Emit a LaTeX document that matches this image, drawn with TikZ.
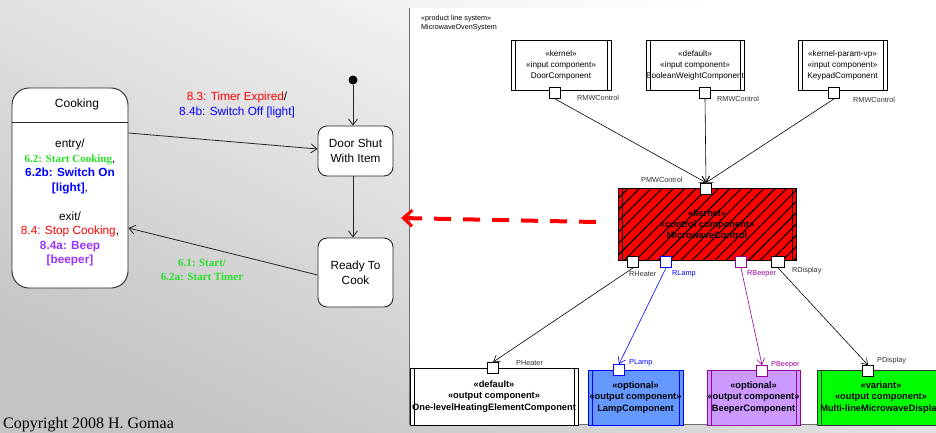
\documentclass[tikz,border=0pt]{standalone}
\usepackage{fontspec}
\setmainfont{Liberation Sans}
\newfontfamily\timesfont{Liberation Serif}
\usetikzlibrary{arrows.meta,patterns.meta}

\definecolor{okgreen}{RGB}{40,225,40}
\definecolor{lampblue}{RGB}{102,153,255}
\definecolor{beeplilac}{RGB}{204,153,255}
\definecolor{beepline}{RGB}{153,0,153}
\definecolor{beeptext}{RGB}{153,51,255}
\definecolor{framegray}{RGB}{110,110,110}

\tikzset{
  comp/.style={draw=#1, line width=0.8pt, rectangle, inner sep=0pt, align=center,
    path picture={
      \draw[#1, line width=0.6pt]
        ([xshift=4pt]path picture bounding box.north west) -- ([xshift=4pt]path picture bounding box.south west)
        ([xshift=-4pt]path picture bounding box.north east) -- ([xshift=-4pt]path picture bounding box.south east);}},
  comp/.default=black,
  topcomp/.style={comp, fill=white, minimum height=50pt, font=\fontsize{8.2}{11}\selectfont},
  outcomp/.style={comp=#1, minimum height=55pt, font=\bfseries\fontsize{9.3}{11.5}\selectfont},
  port/.style={draw=#1, fill=white, line width=0.8pt, minimum width=11pt, minimum height=11pt, inner sep=0pt},
  port/.default=black,
  conn/.style={draw=#1, line width=0.6pt, -{Straight Barb[length=6pt,width=8pt]}},
  conn/.default=black,
  lab/.style={font=\fontsize{7.3}{8}\selectfont, text=black!80, anchor=base west, inner sep=0pt},
  state/.style={draw=black!85, line width=0.9pt, fill=white, rounded corners=9pt, align=center,
    inner sep=0pt, font=\fontsize{11.8}{15}\selectfont},
  sarr/.style={draw=black!85, line width=0.8pt, -{Straight Barb[length=6pt,width=9pt]}},
  trlabel/.style={align=center, inner sep=0pt, font=\fontsize{11.8}{14.5}\selectfont},
}

\begin{document}
\begin{tikzpicture}[x=1pt, y=-1pt]
\useasboundingbox (0,0) rectangle (936,432);
% slide background
\shade[top color=white, bottom color=black!23, shading angle=-25] (0,0) rectangle (936,432);

% ---------------- state machine (left) ----------------
\node[state, rounded corners=17pt, minimum width=116pt, minimum height=200pt] (cook) at (70,188) {};
\draw[draw=black!85, line width=0.9pt] (cook.west |- 0,122) -- (cook.east |- 0,122);
\node[inner sep=0pt, font=\fontsize{12}{14}\selectfont] (cooktitle) at (77,104) {Cooking};
\node[align=center, inner sep=0pt, anchor=north, font=\fontsize{11.8}{14.5}\selectfont] (cookbody) at (70,139) {%
  entry/\\
  {\timesfont\bfseries\fontsize{11}{14.5}\selectfont\color{okgreen}6.2: Start Cooking},\\
  {\bfseries\color{blue}6.2b: Switch On}\\
  {\bfseries\color{blue}[light]},\\[14.5pt]
  exit/\\
  {\color{red}8.4: Stop Cooking},\\
  {\bfseries\color{beeptext}8.4a: Beep}\\
  {\bfseries\color{beeptext}[beeper]}};

\node[circle, fill=black, minimum size=9pt, inner sep=0pt] (init) at (353,80) {};
\node[state, minimum width=75pt, minimum height=50pt] (doorshut) at (355.5,151) {Door Shut\\With Item};
\node[state, minimum width=75pt, minimum height=69pt] (ready) at (355.5,272.5) {Ready To\\Cook};

\draw[sarr] (init) -- (init |- doorshut.north);
\draw[sarr] (doorshut.south -| init) -- (ready.north -| init);
\draw[sarr] ([yshift=55pt]cook.east) -- ([yshift=2pt]doorshut.west);
\draw[sarr] ([yshift=-2.5pt]ready.west) -- ([yshift=-40pt]cook.east);

\node[trlabel] (lblexpired) at (237,105) {{\color{red}8.3: Timer Expired}/\\{\color{blue}8.4b: Switch Off [light]}};
\node[trlabel, font=\timesfont\bfseries\fontsize{11}{14.5}\selectfont, text=okgreen] (lblstart) at (202,270) {6.1: Start/\\6.2a: Start Timer};

\node[anchor=base west, inner sep=0pt, font=\timesfont\fontsize{16}{18}\selectfont] (copy) at (3,428) {Copyright 2008 H. Gomaa};

% ---------------- component structure (right) ----------------
\fill[white] (410,8) rectangle (940,424);
\draw[framegray, line width=0.8pt] (409.5,8) -- (409.5,424.5) -- (940,424.5);
\node[anchor=base west, inner sep=0pt, font=\fontsize{7.2}{8}\selectfont] (sysster) at (421,20) {«product line system»};
\node[anchor=base west, inner sep=0pt, font=\fontsize{7.2}{8}\selectfont] (sysname) at (421,29) {MicrowaveOvenSystem};

% input components
\node[topcomp, minimum width=100pt] (door) at (561,65) {«kernel»\\«input component»\\DoorComponent};
\node[topcomp, minimum width=98pt] (bool) at (695,65) {«default»\\«input component»\\BooleanWeightComponent};
\node[topcomp, minimum width=89pt] (keypad) at (842.5,65) {«kernel-param-vp»\\«input component»\\KeypadComponent};
\node[port] (doorp) at (555,93) {};
\node[port] (boolp) at (705,93) {};
\node[port] (keypadp) at (834,93) {};
\node[lab] (doorpl) at (577,100) {RMWControl};
\node[lab] (boolpl) at (717,101) {RMWControl};
\node[lab] (keypadpl) at (853,102) {RMWControl};

% control component
\node[comp, fill=red, postaction={pattern={Lines[angle=45,distance=8pt,line width=1.1pt]}, pattern color=black},
  minimum width=178pt, minimum height=72pt, font=\bfseries\fontsize{9.3}{11}\selectfont] (ctrl) at (707,224)
  {«kernel»\\«control component»\\MicrowaveControl};
\node[port] (ctrlin) at (706,188.5) {};
\node[lab] (ctrlinl) at (641,182) {PMWControl};
\node[port] (rheat) at (633,262) {};
\node[port=blue] (rlamp) at (666,262) {};
\node[port=beepline] (rbeep) at (741,262) {};
\node[port, minimum width=13pt] (rdisp) at (778,262) {};
\node[lab] (rheatl) at (629,276) {RHeater};
\node[lab, text=blue] (rlampl) at (672,275) {RLamp};
\node[lab, text=beepline] (rbeepl) at (747,275) {RBeeper};
\node[lab] (rdispl) at (792,272) {RDisplay};

% output components
\node[outcomp=black, fill=white, minimum width=168pt, minimum height=57pt] (heat) at (494,396.5) {«default»\\«output component»\\One-levelHeatingElementComponent};
\node[outcomp=blue, fill=lampblue, minimum width=95pt] (lamp) at (635.5,397.5) {«optional»\\«output component»\\LampComponent};
\node[outcomp=beepline, fill=beeplilac, minimum width=93pt] (beep) at (753.5,397.5) {«optional»\\«output component»\\BeeperComponent};
\node[outcomp=black!80, fill=green, minimum width=128pt] (disp) at (881,397.5) {«variant»\\«output component»\\Multi-lineMicrowaveDisplay};
\node[port] (heatp) at (493,368) {};
\node[port=blue] (lampp) at (619,370) {};
\node[port=beepline] (beepp) at (762,371) {};
\node[port] (dispp) at (868,371) {};
\node[lab] (heatpl) at (516,365) {PHeater};
\node[lab, text=blue] (lamppl) at (629,364) {PLamp};
\node[lab, text=beepline] (beeppl) at (771,366) {PBeeper};
\node[lab] (disppl) at (877,362) {PDisplay};

% connectors
\draw[conn] (doorp.south) -- (ctrlin.north);
\draw[conn] (boolp.south) -- (ctrlin.north);
\draw[conn] (keypadp.south) -- (ctrlin.north);
\draw[conn] (rheat.south) -- (heatp.north);
\draw[conn=blue] (rlamp.south) -- (lampp.north);
\draw[conn=beepline] (rbeep.south) -- (beepp.north);
\draw[conn] (rdisp.south) -- (dispp.north);

% dependency pointing back to the state machine
\coordinate (dashtail) at (596,222);
\coordinate (dashhead) at (401,218);
\draw[red, line width=4pt, dash pattern=on 17pt off 12pt,
  -{Straight Barb[length=9pt,width=16pt,line width=3pt]}] (dashtail) -- (dashhead);
\end{tikzpicture}
\end{document}
